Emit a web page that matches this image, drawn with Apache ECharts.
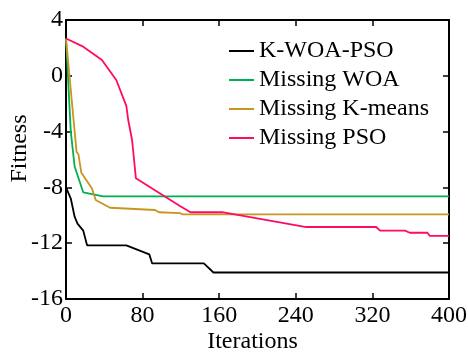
<!DOCTYPE html>
<html>
<head>
<meta charset="utf-8">
<script src="https://cdn.jsdelivr.net/npm/echarts@6/dist/echarts.min.js"></script>
<style>
  html, body { margin: 0; padding: 0; background: #fff; }
  #chart { width: 468px; height: 352px; }
</style>
</head>
<body>
<div id="chart"></div>
<script>
// Convergence curves: fitness against iteration count for each variant
const seriesNames = ['K-WOA-PSO', 'Missing WOA', 'Missing K-means', 'Missing PSO'];
const seriesColors = ['#000000', '#00b050', '#c8961e', '#ff0a64'];

const kwoaIter = [0, 1, 5, 9, 12, 18, 22, 63, 87, 90, 144, 154, 400];
const kwoaFit  = [-8.0, -8.1, -8.8, -10.1, -10.6, -11.1, -12.15, -12.15, -12.8, -13.45, -13.45, -14.1, -14.1];

const noWoaIter = [0, 5, 9, 18, 39, 400];
const noWoaFit  = [2.67, -4.0, -6.5, -8.35, -8.65, -8.65];

const noKmIter = [0, 11, 13, 16, 27, 31, 46, 93, 97, 119, 122, 400];
const noKmFit  = [2.67, -5.44, -5.63, -6.95, -8.06, -8.9, -9.46, -9.62, -9.78, -9.84, -9.94, -9.94];

const noPsoIter = [0, 18, 37.5, 52.5, 63, 65, 69, 73, 119, 130, 163, 251, 324, 328, 354, 359, 377.5, 380, 400];
const noPsoFit  = [2.67, 2.09, 1.13, -0.3, -2.16, -3.17, -4.6, -7.35, -9.33, -9.78, -9.78, -10.84, -10.84, -11.1, -11.1, -11.25, -11.25, -11.48, -11.48];

const xTicks = { min: 0, max: 400, step: 80 };
const yTicks = { min: -16, max: 4, step: 4 };

const iterSets = [kwoaIter, noWoaIter, noKmIter, noPsoIter];
const fitSets = [kwoaFit, noWoaFit, noKmFit, noPsoFit];

const FONT = "'Liberation Serif', 'Times New Roman', serif";

function pairs(xs, ys) {
  return xs.map((x, i) => [x, ys[i]]);
}

const axisLineStyle = { show: true, onZero: false, lineStyle: { color: '#000', width: 2 } };
const tickStyle = { show: true, inside: true, length: 6, lineStyle: { color: '#000', width: 1.5 } };
const labelFont = { fontFamily: FONT, fontSize: 24, color: '#000' };

const chart = echarts.init(document.getElementById('chart'), null, { renderer: 'canvas' });

chart.setOption({
  animation: false,
  backgroundColor: '#fff',
  grid: { left: 66, right: 19, top: 20, bottom: 53, outerBoundsMode: 'none', containLabel: false },
  legend: {
    orient: 'vertical',
    left: 229,
    top: 39,
    padding: 0,
    itemWidth: 25,
    itemHeight: 2,
    itemGap: 5,
    icon: 'rect',
    data: seriesNames,
    textStyle: { fontFamily: FONT, fontSize: 24, color: '#000', lineHeight: 24 }
  },
  xAxis: [
    {
      type: 'value', position: 'bottom',
      min: xTicks.min, max: xTicks.max, interval: xTicks.step,
      axisLine: axisLineStyle, axisTick: tickStyle,
      axisLabel: Object.assign({ margin: 5, showMinLabel: true, showMaxLabel: true }, labelFont),
      splitLine: { show: false },
      name: 'Iterations', nameLocation: 'middle', nameGap: 31, nameMoveOverlap: false,
      nameTextStyle: { fontFamily: FONT, fontSize: 24, color: '#000', padding: [0, 10, 0, 0] }
    },
    {
      type: 'value', position: 'top',
      min: xTicks.min, max: xTicks.max, interval: xTicks.step,
      axisLine: axisLineStyle, axisTick: tickStyle,
      axisLabel: { show: false }, splitLine: { show: false }
    }
  ],
  yAxis: [
    {
      type: 'value', position: 'left',
      min: yTicks.min, max: yTicks.max, interval: yTicks.step,
      axisLine: axisLineStyle, axisTick: tickStyle,
      axisLabel: Object.assign({ margin: 3, padding: [5, 0, 0, 0], showMinLabel: true, showMaxLabel: true }, labelFont),
      splitLine: { show: false },
      name: 'Fitness', nameLocation: 'middle', nameGap: 34, nameRotate: 90, nameMoveOverlap: false,
      nameTextStyle: { fontFamily: FONT, fontSize: 24, color: '#000', padding: [0, 0, 0, 22] }
    },
    {
      type: 'value', position: 'right',
      min: yTicks.min, max: yTicks.max, interval: yTicks.step,
      axisLine: axisLineStyle, axisTick: tickStyle,
      axisLabel: { show: false }, splitLine: { show: false }
    }
  ],
  series: seriesNames.map((name, i) => ({
    name: name,
    type: 'line',
    xAxisIndex: 0,
    yAxisIndex: 0,
    symbol: 'none',
    color: seriesColors[i],
    lineStyle: { color: seriesColors[i], width: 1.8 },
    data: pairs(iterSets[i], fitSets[i])
  }))
});
</script>
</body>
</html>
